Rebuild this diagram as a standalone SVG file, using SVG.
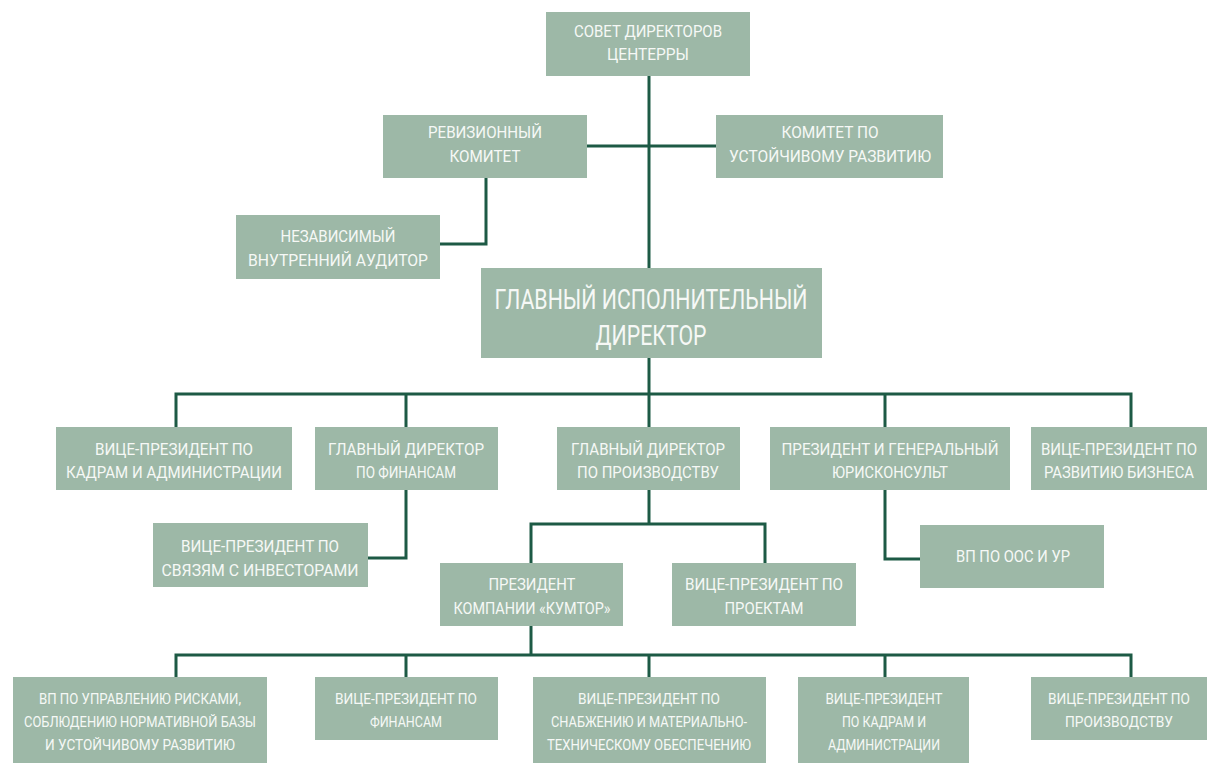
<svg xmlns="http://www.w3.org/2000/svg" width="1208" height="763" viewBox="0 0 1208 763">
<style>
.box{fill:#9db8a7}
.t{font-family:Roboto,"Liberation Sans",sans-serif;font-size:17px;fill:#f6f8f6;text-anchor:middle}
.b{font-size:28px}
.s{font-size:15px}
.c{fill:none;stroke:#1d5a45;stroke-width:3}
</style>
<rect width="1208" height="763" fill="#ffffff"/>
<g id="connectors" class="c">
<path d="M649 76V268"/>
<path d="M587 146H716"/>
<path d="M486 178V244H440"/>
<path d="M649 358V394"/>
<path d="M176 427V394H1131V427"/>
<path d="M406 394V427M649 394V427M885 394V427"/>
<path d="M406 490V558H368"/>
<path d="M649 490V524"/>
<path d="M531 563V524H765V563"/>
<path d="M885 490V559H920"/>
<path d="M531 626V655"/>
<path d="M176 677V655H1131V677"/>
<path d="M406 655V677M649 655V677M885 655V677"/>
</g>
<g id="n-board"><rect class="box" x="546" y="12" width="204" height="64"/>
<text class="t" x="648" y="37" textLength="148" lengthAdjust="spacingAndGlyphs">СОВЕТ ДИРЕКТОРОВ</text>
<text class="t" x="648" y="60" textLength="82" lengthAdjust="spacingAndGlyphs">ЦЕНТЕРРЫ</text></g>
<g id="n-audit"><rect class="box" x="383" y="115" width="204" height="63"/>
<text class="t" x="485" y="138" textLength="114" lengthAdjust="spacingAndGlyphs">РЕВИЗИОННЫЙ</text>
<text class="t" x="485" y="162" textLength="71" lengthAdjust="spacingAndGlyphs">КОМИТЕТ</text></g>
<g id="n-sust"><rect class="box" x="716" y="115" width="227" height="63"/>
<text class="t" x="830" y="138" textLength="97" lengthAdjust="spacingAndGlyphs">КОМИТЕТ ПО</text>
<text class="t" x="830" y="162" textLength="202" lengthAdjust="spacingAndGlyphs">УСТОЙЧИВОМУ РАЗВИТИЮ</text></g>
<g id="n-auditor"><rect class="box" x="236" y="215" width="204" height="64"/>
<text class="t" x="338" y="242" textLength="115" lengthAdjust="spacingAndGlyphs">НЕЗАВИСИМЫЙ</text>
<text class="t" x="338" y="266" textLength="180" lengthAdjust="spacingAndGlyphs">ВНУТРЕННИЙ АУДИТОР</text></g>
<g id="n-ceo"><rect class="box" x="481" y="268" width="341" height="90"/>
<text class="t b" x="651" y="309" textLength="313" lengthAdjust="spacingAndGlyphs">ГЛАВНЫЙ ИСПОЛНИТЕЛЬНЫЙ</text>
<text class="t b" x="651" y="345" textLength="111" lengthAdjust="spacingAndGlyphs">ДИРЕКТОР</text></g>
<g id="n-hr"><rect class="box" x="56" y="427" width="236" height="63"/>
<text class="t" x="174" y="455" textLength="158" lengthAdjust="spacingAndGlyphs">ВИЦЕ-ПРЕЗИДЕНТ ПО</text>
<text class="t" x="174" y="478" textLength="216" lengthAdjust="spacingAndGlyphs">КАДРАМ И АДМИНИСТРАЦИИ</text></g>
<g id="n-cfo"><rect class="box" x="315" y="427" width="183" height="63"/>
<text class="t" x="406" y="455" textLength="156" lengthAdjust="spacingAndGlyphs">ГЛАВНЫЙ ДИРЕКТОР</text>
<text class="t" x="406" y="478" textLength="100" lengthAdjust="spacingAndGlyphs">ПО ФИНАНСАМ</text></g>
<g id="n-coo"><rect class="box" x="557" y="427" width="183" height="63"/>
<text class="t" x="648" y="455" textLength="154" lengthAdjust="spacingAndGlyphs">ГЛАВНЫЙ ДИРЕКТОР</text>
<text class="t" x="648" y="478" textLength="142" lengthAdjust="spacingAndGlyphs">ПО ПРОИЗВОДСТВУ</text></g>
<g id="n-legal"><rect class="box" x="770" y="427" width="240" height="63"/>
<text class="t" x="890" y="455" textLength="217" lengthAdjust="spacingAndGlyphs">ПРЕЗИДЕНТ И ГЕНЕРАЛЬНЫЙ</text>
<text class="t" x="890" y="478" textLength="116" lengthAdjust="spacingAndGlyphs">ЮРИСКОНСУЛЬТ</text></g>
<g id="n-bizdev"><rect class="box" x="1031" y="427" width="176" height="63"/>
<text class="t" x="1119" y="455" textLength="156" lengthAdjust="spacingAndGlyphs">ВИЦЕ-ПРЕЗИДЕНТ ПО</text>
<text class="t" x="1119" y="478" textLength="150" lengthAdjust="spacingAndGlyphs">РАЗВИТИЮ БИЗНЕСА</text></g>
<g id="n-ir"><rect class="box" x="153" y="523" width="215" height="64"/>
<text class="t" x="260" y="552" textLength="158" lengthAdjust="spacingAndGlyphs">ВИЦЕ-ПРЕЗИДЕНТ ПО</text>
<text class="t" x="260" y="576" textLength="197" lengthAdjust="spacingAndGlyphs">СВЯЗЯМ С ИНВЕСТОРАМИ</text></g>
<g id="n-env"><rect class="box" x="920" y="525" width="184" height="63"/>
<text class="t" x="1013" y="562" textLength="114" lengthAdjust="spacingAndGlyphs">ВП ПО ООС И УР</text></g>
<g id="n-kumtor"><rect class="box" x="440" y="563" width="183" height="63"/>
<text class="t" x="532" y="590" textLength="87" lengthAdjust="spacingAndGlyphs">ПРЕЗИДЕНТ</text>
<text class="t" x="532" y="614" textLength="157" lengthAdjust="spacingAndGlyphs">КОМПАНИИ «КУМТОР»</text></g>
<g id="n-projects"><rect class="box" x="672" y="563" width="184" height="63"/>
<text class="t" x="764" y="590" textLength="158" lengthAdjust="spacingAndGlyphs">ВИЦЕ-ПРЕЗИДЕНТ ПО</text>
<text class="t" x="764" y="614" textLength="79" lengthAdjust="spacingAndGlyphs">ПРОЕКТАМ</text></g>
<g id="n-risk"><rect class="box" x="13" y="677" width="254" height="86"/>
<text class="t s" x="140" y="704" textLength="202" lengthAdjust="spacingAndGlyphs">ВП ПО УПРАВЛЕНИЮ РИСКАМИ,</text>
<text class="t s" x="140" y="727" textLength="232" lengthAdjust="spacingAndGlyphs">СОБЛЮДЕНИЮ НОРМАТИВНОЙ БАЗЫ</text>
<text class="t s" x="140" y="750" textLength="190" lengthAdjust="spacingAndGlyphs">И УСТОЙЧИВОМУ РАЗВИТИЮ</text></g>
<g id="n-kfin"><rect class="box" x="315" y="677" width="183" height="63"/>
<text class="t s" x="406" y="704" textLength="142" lengthAdjust="spacingAndGlyphs">ВИЦЕ-ПРЕЗИДЕНТ ПО</text>
<text class="t s" x="406" y="727" textLength="72" lengthAdjust="spacingAndGlyphs">ФИНАНСАМ</text></g>
<g id="n-supply"><rect class="box" x="533" y="677" width="233" height="86"/>
<text class="t s" x="649" y="704" textLength="142" lengthAdjust="spacingAndGlyphs">ВИЦЕ-ПРЕЗИДЕНТ ПО</text>
<text class="t s" x="649" y="727" textLength="196" lengthAdjust="spacingAndGlyphs">СНАБЖЕНИЮ И МАТЕРИАЛЬНО-</text>
<text class="t s" x="649" y="750" textLength="204" lengthAdjust="spacingAndGlyphs">ТЕХНИЧЕСКОМУ ОБЕСПЕЧЕНИЮ</text></g>
<g id="n-khr"><rect class="box" x="798" y="677" width="171" height="86"/>
<text class="t s" x="884" y="704" textLength="117" lengthAdjust="spacingAndGlyphs">ВИЦЕ-ПРЕЗИДЕНТ</text>
<text class="t s" x="884" y="727" textLength="84" lengthAdjust="spacingAndGlyphs">ПО КАДРАМ И</text>
<text class="t s" x="884" y="750" textLength="112" lengthAdjust="spacingAndGlyphs">АДМИНИСТРАЦИИ</text></g>
<g id="n-kprod"><rect class="box" x="1031" y="677" width="176" height="63"/>
<text class="t s" x="1119" y="704" textLength="142" lengthAdjust="spacingAndGlyphs">ВИЦЕ-ПРЕЗИДЕНТ ПО</text>
<text class="t s" x="1119" y="727" textLength="108" lengthAdjust="spacingAndGlyphs">ПРОИЗВОДСТВУ</text></g>
</svg>
